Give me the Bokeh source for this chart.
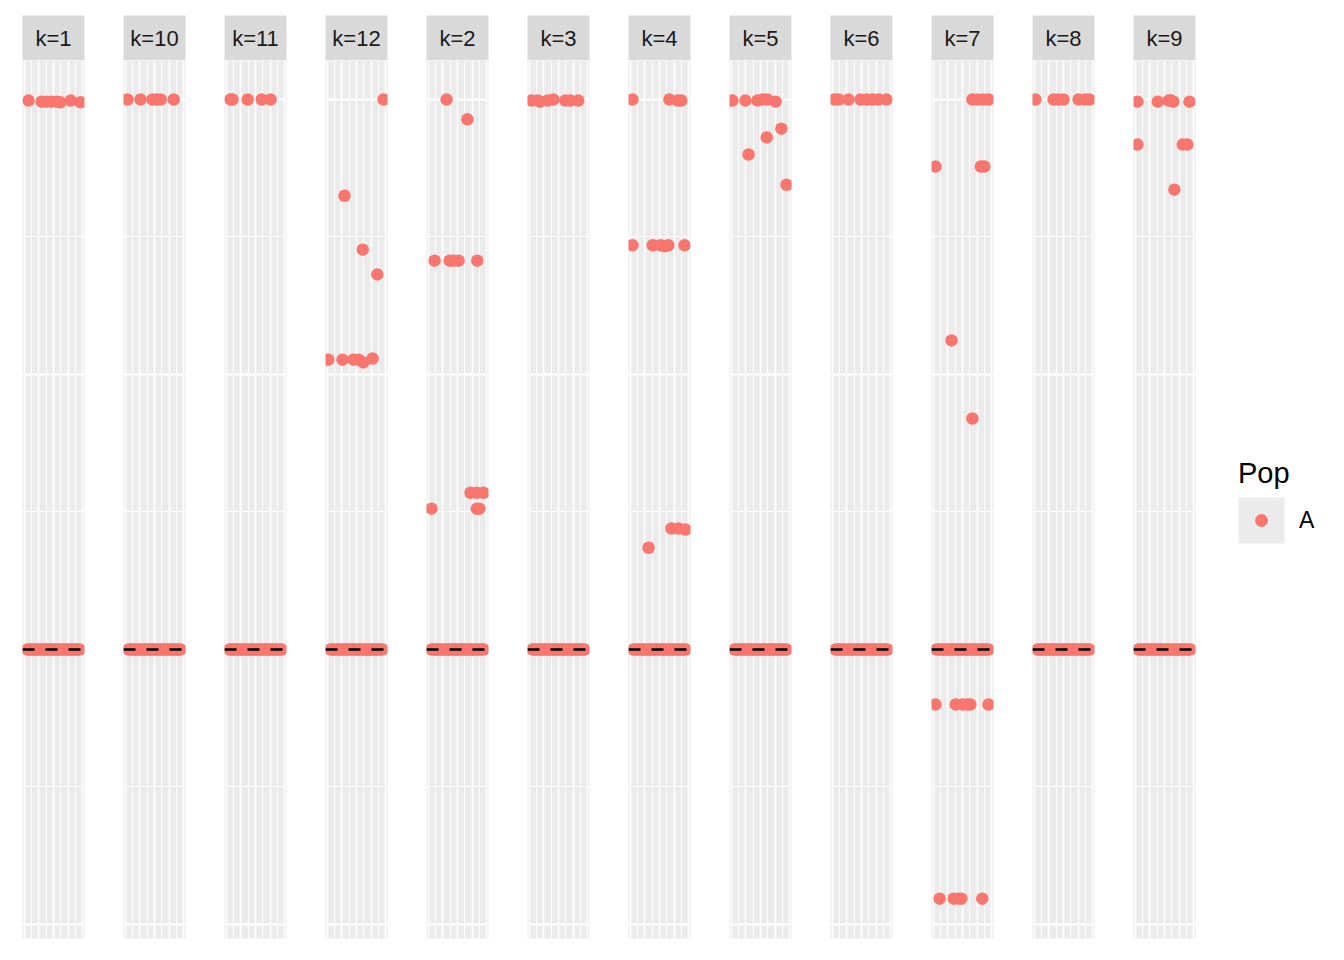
from bokeh.plotting import figure
from bokeh.models import ColumnDataSource, Span, Grid, FixedTicker, Range1d, Legend, LegendItem, BoxAnnotation
from bokeh.layouts import row, column
from bokeh.embed import file_html
from bokeh.resources import INLINE
from bokeh.core.properties import value

# ---------------- data ----------------
facets = ["k=1", "k=10", "k=11", "k=12", "k=2", "k=3", "k=4", "k=5", "k=6", "k=7", "k=8", "k=9"]
pop_labels = ["A"]

# points lying on the reference level (y = 0) in every facet
band_x = [0.0, 0.04, 0.08, 0.12, 0.16, 0.2, 0.24, 0.28, 0.32, 0.36, 0.4, 0.44, 0.48,
          0.52, 0.56, 0.6, 0.64, 0.68, 0.72, 0.76, 0.8, 0.84, 0.88, 0.92, 0.96, 1.0]
band_y = [0.0] * 26
ref_level = 0.0

x_k1 = [0.02, 0.27, 0.37, 0.46, 0.56, 0.63, 0.83, 1.02]
y_k1 = [0.998, 0.996, 0.996, 0.996, 0.996, 0.995, 0.998, 0.995]
x_k10 = [-0.02, 0.23, 0.46, 0.54, 0.62, 0.87]
y_k10 = [1.0, 1.0, 1.0, 1.0, 1.0, 1.0]
x_k11 = [0.02, 0.06, 0.35, 0.62, 0.79]
y_k11 = [1.0, 1.0, 1.0, 1.0, 1.0]
x_k12 = [1.02, 0.27, 0.62, 0.90, -0.04, 0.23, 0.44, 0.54, 0.63, 0.81]
y_k12 = [1.0, 0.825, 0.727, 0.682, 0.527, 0.527, 0.527, 0.527, 0.522, 0.529]
x_k2 = [0.29, 0.69, 0.06, 0.35, 0.42, 0.52, 0.88, 0.0, 0.75, 0.87, 1.0, 0.87, 0.92]
y_k2 = [1.0, 0.964, 0.707, 0.707, 0.707, 0.707, 0.707, 0.256, 0.285, 0.285, 0.285, 0.256, 0.256]
x_k3 = [-0.02, 0.10, 0.15, 0.29, 0.40, 0.63, 0.73, 0.88]
y_k3 = [0.998, 0.998, 0.996, 0.998, 1.0, 0.998, 0.998, 0.998]
x_k4 = [-0.02, 0.69, 0.85, 0.92, -0.02, 0.37, 0.52, 0.60, 0.67, 0.98, 0.29, 0.73, 0.87, 1.0]
y_k4 = [1.0, 1.0, 0.998, 0.998, 0.735, 0.735, 0.735, 0.733, 0.735, 0.735, 0.185, 0.22, 0.22, 0.218]
x_k5 = [-0.04, 0.21, 0.44, 0.54, 0.63, 0.79, 0.27, 0.62, 0.90, 1.0]
y_k5 = [0.998, 0.998, 0.998, 1.0, 1.0, 0.996, 0.9, 0.931, 0.947, 0.845]
x_k6 = [-0.02, 0.06, 0.25, 0.48, 0.60, 0.71, 0.83, 0.98]
y_k6 = [1.0, 1.0, 1.0, 1.0, 1.0, 1.0, 1.0, 1.0]
x_k7 = [0.69, 0.79, 0.90, 1.0, -0.02, 0.85, 0.92, 0.29, 0.69,
        -0.02, 0.37, 0.50, 0.60, 0.65, 1.0, 0.06, 0.33, 0.42, 0.48, 0.88]
y_k7 = [1.0, 1.0, 1.0, 1.0, 0.878, 0.878, 0.878, 0.562, 0.42,
        -0.1, -0.1, -0.1, -0.1, -0.1, -0.1, -0.453, -0.453, -0.453, -0.453, -0.453]
x_k8 = [-0.04, 0.31, 0.40, 0.50, 0.79, 0.92, 1.0]
y_k8 = [1.0, 1.0, 1.0, 1.0, 1.0, 1.0, 1.0]
x_k9 = [-0.02, 0.37, 0.58, 0.63, 0.67, 0.98, -0.02, 0.85, 0.94, 0.69]
y_k9 = [0.996, 0.996, 0.998, 0.998, 0.996, 0.996, 0.918, 0.918, 0.918, 0.836]

facet_points = {
    "k=1": (x_k1, y_k1), "k=10": (x_k10, y_k10), "k=11": (x_k11, y_k11),
    "k=12": (x_k12, y_k12), "k=2": (x_k2, y_k2), "k=3": (x_k3, y_k3),
    "k=4": (x_k4, y_k4), "k=5": (x_k5, y_k5), "k=6": (x_k6, y_k6),
    "k=7": (x_k7, y_k7), "k=8": (x_k8, y_k8), "k=9": (x_k9, y_k9),
}

# ---------------- style ----------------
POINT = "#F8766D"
PANEL_BG = "#EBEBEB"
STRIP_BG = "#D9D9D9"
FONT = "Liberation Sans"

X_RANGE = (-0.096, 1.096)
Y_RANGE = (-0.5255, 1.0709)
x_major = [-0.058, 0.221, 0.5, 0.779, 1.058]
x_minor = [0.081, 0.360, 0.639, 0.918]
y_major = [-0.5, 0.0, 0.5, 1.0]
y_minor = [-0.25, 0.25, 0.75]


def strip_defaults(fig):
    fig.xgrid.visible = False
    fig.ygrid.visible = False


cols = []
for i, f in enumerate(facets):
    left = 22 if i == 0 else 19
    right = 20
    w = left + 62 + right

    s = figure(width=w, height=60, x_range=Range1d(0, 1), y_range=Range1d(0, 1),
               x_axis_location=None, y_axis_location=None, toolbar_location=None,
               output_backend="svg", min_border_left=left, min_border_right=right,
               min_border_top=15, min_border_bottom=0,
               background_fill_color=STRIP_BG, border_fill_color="white",
               outline_line_color=None)
    strip_defaults(s)
    s.text(x=[0.5], y=[0.5], text=[f], text_align="center", text_baseline="middle",
           text_font=value(FONT), text_font_size="22px", text_color="#1A1A1A")

    p = figure(width=w, height=900, x_range=Range1d(*X_RANGE), y_range=Range1d(*Y_RANGE),
               x_axis_location=None, y_axis_location=None, toolbar_location=None,
               output_backend="svg", min_border_left=left, min_border_right=right,
               min_border_top=0, min_border_bottom=22,
               background_fill_color=PANEL_BG, border_fill_color="white",
               outline_line_color=None)
    strip_defaults(p)
    p.add_layout(Grid(dimension=0, ticker=FixedTicker(ticks=x_major, minor_ticks=x_minor),
                      grid_line_color="white", grid_line_width=1.6,
                      minor_grid_line_color="white", minor_grid_line_width=0.9))
    p.add_layout(Grid(dimension=1, ticker=FixedTicker(ticks=y_major, minor_ticks=y_minor),
                      grid_line_color="white", grid_line_width=2.0,
                      minor_grid_line_color="white", minor_grid_line_width=1.0))
    p.scatter(x=band_x, y=band_y, size=12.5, fill_color=POINT, line_color=None)
    xs, ys = facet_points[f]
    p.scatter(x=xs, y=ys, size=12.5, fill_color=POINT, line_color=None)
    p.add_layout(Span(location=ref_level, dimension="width", line_color="black",
                      line_width=2.5, line_dash="12 11"))
    cols.append(column(s, p))

# ---------------- legend ----------------
leg = figure(width=129, height=960, x_range=Range1d(0, 129), y_range=Range1d(0, 960),
             x_axis_location=None, y_axis_location=None, toolbar_location=None,
             output_backend="svg", min_border=0, outline_line_color=None,
             background_fill_color="white", border_fill_color="white")
strip_defaults(leg)
leg.add_layout(BoxAnnotation(left=23, right=69, bottom=417, top=463,
                             fill_color=PANEL_BG, fill_alpha=1.0, line_color=None,
                             level="underlay"))
r_pt = leg.scatter(x=[float("nan")], y=[float("nan")], size=12.5,
                   fill_color=POINT, line_color=None)
legend = Legend(items=[LegendItem(label=pop_labels[0], renderers=[r_pt])],
                location=(23, 423.75), title="Pop",
                title_text_font=FONT, title_text_font_size="29px", title_text_color="black",
                title_text_font_style="normal", title_standoff=14,
                label_text_font=FONT, label_text_font_size="23px", label_text_color="black",
                glyph_width=46, glyph_height=32, label_standoff=15,
                padding=0, margin=0, spacing=0,
                border_line_color=None, background_fill_alpha=0.0)
leg.add_layout(legend, "center")

layout = row(*cols, leg)
open("out.html", "w").write(file_html(layout, INLINE))
